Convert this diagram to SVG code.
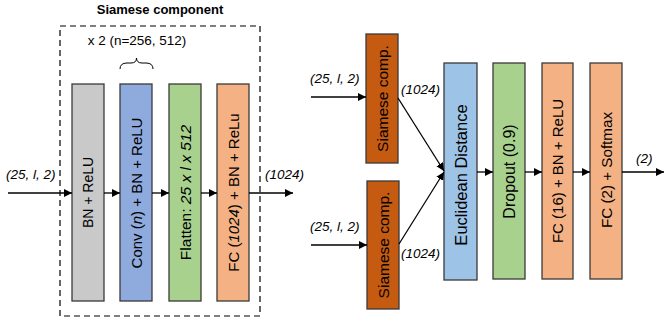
<svg xmlns="http://www.w3.org/2000/svg" width="664" height="324" viewBox="0 0 664 324">
<defs>
<marker id="ah" viewBox="0 0 10 10" refX="10" refY="5" markerWidth="8" markerHeight="8" markerUnits="userSpaceOnUse" orient="auto">
<path d="M0,0 L10,5 L0,10 z" fill="#000"/>
</marker>
<style>
.box{stroke:#3a3a3a;stroke-width:1.3}
.t{font-family:"Liberation Sans",Arial,sans-serif;fill:#000;text-anchor:middle;dominant-baseline:central}
.lbl{font-family:"Liberation Sans",Arial,sans-serif;font-style:italic;font-size:13.5px;fill:#000}
.c{stroke:#000;stroke-width:1.3;fill:none;marker-end:url(#ah)}
</style>
</defs>
<rect width="664" height="324" fill="#fff"/>

<g id="siamese-component">
<text x="160" y="14" font-family="Liberation Sans,Arial,sans-serif" font-weight="bold" font-size="13" text-anchor="middle">Siamese component</text>
<rect x="60" y="26" width="200" height="290" fill="none" stroke="#000" stroke-width="1.2" stroke-dasharray="6,4"/>
<text x="137" y="45" font-family="Liberation Sans,Arial,sans-serif" font-size="13.5" text-anchor="middle">x 2 (n=256, 512)</text>
<path d="M120,69 Q120,63 127,63 L131,63 Q136.5,63 136.5,58 Q136.5,63 142,63 L146,63 Q153,63 153,69" fill="none" stroke="#000" stroke-width="1"/>
</g>

<g id="bn-relu">
<rect class="box" x="72" y="84" width="32" height="217" fill="#C9C9C9"/>
<text class="t" font-size="14" transform="translate(88,192.5) rotate(-90)">BN + ReLU</text>
</g>
<g id="conv">
<rect class="box" x="120" y="84" width="32" height="217" fill="#8FAADC"/>
<text class="t" font-size="15" transform="translate(136,193) rotate(-90)">Conv (<tspan font-style="italic">n</tspan>) + BN + ReLU</text>
</g>
<g id="flatten">
<rect class="box" x="169" y="84" width="32" height="217" fill="#A9D18E"/>
<text class="t" font-size="15.5" transform="translate(185,192.5) rotate(-90)">Flatten: <tspan font-style="italic">25 x l x 512</tspan></text>
</g>
<g id="fc1024">
<rect class="box" x="217" y="84" width="32" height="217" fill="#F4B183"/>
<text class="t" font-size="15" transform="translate(233,192.5) rotate(-90)">FC (<tspan font-style="italic">1024</tspan>) + BN + ReLu</text>
</g>

<g id="siamese-top">
<rect class="box" x="366" y="34" width="32" height="129" fill="#C55A11"/>
<text class="t" font-size="15.5" transform="translate(382,98.5) rotate(-90)">Siamese comp.</text>
</g>
<g id="siamese-bottom">
<rect class="box" x="367" y="181" width="32" height="128" fill="#C55A11"/>
<text class="t" font-size="15.5" transform="translate(383,245) rotate(-90)">Siamese comp.</text>
</g>
<g id="euclidean">
<rect class="box" x="444" y="63" width="33" height="217" fill="#9DC3E6"/>
<text class="t" font-size="16.5" transform="translate(460.5,175) rotate(-90)">Euclidean Distance</text>
</g>
<g id="dropout">
<rect class="box" x="493" y="63" width="32" height="216" fill="#A9D18E"/>
<text class="t" font-size="16" transform="translate(509,171.5) rotate(-90)">Dropout (0.9)</text>
</g>
<g id="fc16">
<rect class="box" x="542" y="63" width="31" height="216" fill="#F4B183"/>
<text class="t" font-size="15" transform="translate(557.5,171) rotate(-90)">FC (16) + BN + ReLU</text>
</g>
<g id="fc2">
<rect class="box" x="590" y="63" width="32" height="216" fill="#F4B183"/>
<text class="t" font-size="15.2" transform="translate(606,170) rotate(-90)">FC (2) + Softmax</text>
</g>

<g id="connectors">
<line class="c" x1="8" y1="193" x2="72" y2="193"/>
<line class="c" x1="104" y1="193" x2="120" y2="193"/>
<line class="c" x1="152" y1="193" x2="169" y2="193"/>
<line class="c" x1="201" y1="193" x2="217" y2="193"/>
<line class="c" x1="249" y1="193" x2="293" y2="193"/>
<line class="c" x1="311" y1="97" x2="366" y2="97"/>
<line class="c" x1="311" y1="245" x2="367" y2="245"/>
<line class="c" x1="398" y1="98" x2="444" y2="171"/>
<line class="c" x1="399" y1="244" x2="444" y2="172"/>
<line class="c" x1="477" y1="172" x2="493" y2="172"/>
<line class="c" x1="525" y1="172" x2="542" y2="172"/>
<line class="c" x1="573" y1="172" x2="590" y2="172"/>
<line class="c" x1="622" y1="172" x2="664" y2="172"/>
<text class="lbl" x="6" y="179">(25, l, 2)</text>
<text class="lbl" x="265" y="179">(1024)</text>
<text class="lbl" x="310" y="83">(25, l, 2)</text>
<text class="lbl" x="310" y="231">(25, l, 2)</text>
<text class="lbl" x="401" y="94">(1024)</text>
<text class="lbl" x="401" y="258">(1024)</text>
<text class="lbl" x="636" y="163">(2)</text>
</g>
</svg>
